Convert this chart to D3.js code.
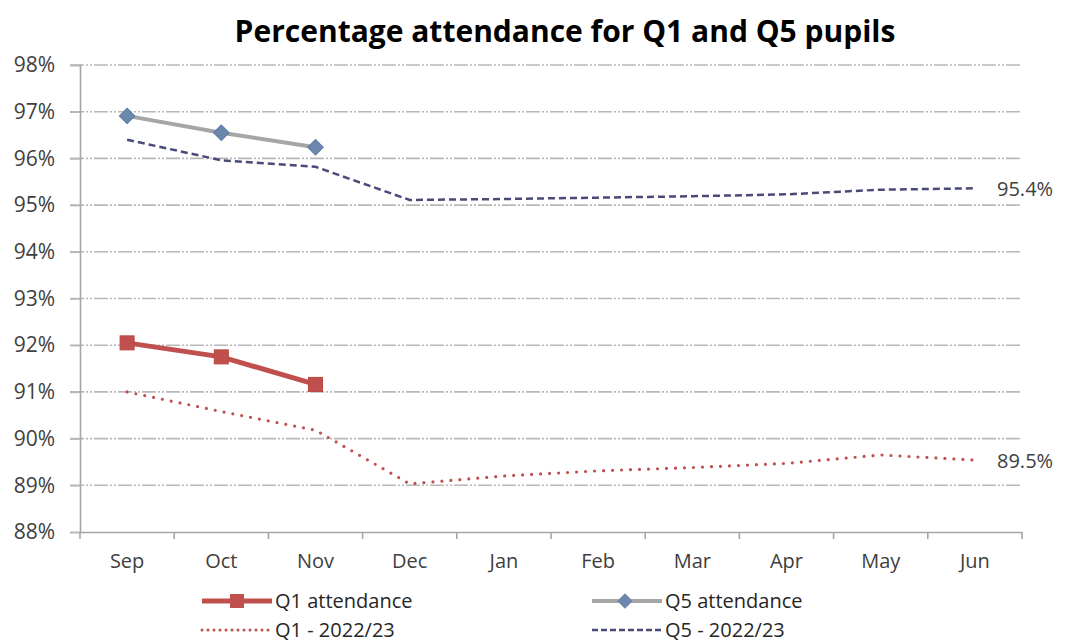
<!DOCTYPE html>
<html>
<head>
<meta charset="utf-8">
<script src="https://cdn.jsdelivr.net/npm/d3@7"></script>
<style>
  body { margin: 0; background: #fff; }
  text { font-family: "Open Sans", Lato, sans-serif; }
</style>
</head>
<body>
<div id="chart"></div>
<script>
// values
var months = ["Sep", "Oct", "Nov", "Dec", "Jan", "Feb", "Mar", "Apr", "May", "Jun"]
var q1Attendance = [92.05, 91.75, 91.16]
var q5Attendance = [96.91, 96.55, 96.24]
var q1Prev = [91.0, 90.58, 90.18, 89.03, 89.2, 89.31, 89.38, 89.47, 89.65, 89.54]
var q5Prev = [96.4, 95.96, 95.82, 95.11, 95.13, 95.16, 95.19, 95.23, 95.33, 95.36]
var yTicks = [88, 89, 90, 91, 92, 93, 94, 95, 96, 97, 98]
var endLabels = ["95.4%", "89.5%"]

var W = 1065, H = 643
var m = {left: 80, right: 43, top: 65, bottom: 111}

var svg = d3.select("#chart").append("svg").attr("width", W).attr("height", H)

var x = d3.scaleBand().domain(months).range([m.left, W - m.right])
var y = d3.scaleLinear().domain([88, 98]).range([H - m.bottom, m.top])
var cx = function(d, i) { return x(months[i]) + x.bandwidth() / 2 }

svg.append("text")
  .attr("x", 565).attr("y", 42)
  .attr("text-anchor", "middle")
  .attr("font-size", 30).attr("font-weight", "bold").attr("fill", "#000")
  .text("Percentage attendance for Q1 and Q5 pupils")

// gridlines
svg.append("g").selectAll("line").data(yTicks.slice(1)).join("line")
  .attr("x1", m.left - 10).attr("x2", W - m.right)
  .attr("y1", d => y(d)).attr("y2", d => y(d))
  .attr("stroke", "#b8b8b8").attr("stroke-width", 1.6)
  .attr("stroke-dasharray", "14,2,2,2,2,2")

// y axis
var yAxis = svg.append("g").attr("transform", "translate(" + m.left + ",0)")
  .call(d3.axisLeft(y).tickValues(yTicks).tickFormat(d => d + "%").tickSize(10).tickPadding(15))
yAxis.select(".domain").attr("stroke", "#a6a6a6").attr("stroke-width", 1.6)
yAxis.selectAll(".tick line").attr("stroke", "#b8b8b8").attr("stroke-width", 1.6)
yAxis.selectAll("text").attr("font-size", 21).attr("fill", "#404040")

// x axis
var xAxis = svg.append("g").attr("transform", "translate(0," + y(88) + ")")
  .call(d3.axisBottom(x).tickSize(0).tickPadding(22))
xAxis.select(".domain").attr("stroke", "#a6a6a6").attr("stroke-width", 1.6)
xAxis.selectAll("text").attr("font-size", 20).attr("fill", "#404040")
svg.append("g").selectAll("line").data(d3.range(months.length + 1)).join("line")
  .attr("x1", i => m.left + i * x.step()).attr("x2", i => m.left + i * x.step())
  .attr("y1", y(88)).attr("y2", y(88) + 7)
  .attr("stroke", "#a6a6a6").attr("stroke-width", 1.6)

var line = d3.line().x(cx).y(d => y(d))

// last year lines
svg.append("path").datum(q5Prev).attr("d", line)
  .attr("fill", "none").attr("stroke", "#4a4a78").attr("stroke-width", 2.5)
  .attr("stroke-dasharray", "7,4")
svg.append("path").datum(q1Prev).attr("d", line)
  .attr("fill", "none").attr("stroke", "#c0504d").attr("stroke-width", 3.2)
  .attr("stroke-linecap", "round").attr("stroke-dasharray", "0,9")

// this year lines
svg.append("path").datum(q5Attendance).attr("d", line)
  .attr("fill", "none").attr("stroke", "#a6a6a6").attr("stroke-width", 4)
svg.append("g").selectAll("path").data(q5Attendance).join("path")
  .attr("d", d3.symbol(d3.symbolSquare, 120))
  .attr("transform", (d, i) => "translate(" + cx(d, i) + "," + y(d) + ") rotate(45)")
  .attr("fill", "#6b87ab").attr("stroke", "#5a7aa5").attr("stroke-width", 1)

svg.append("path").datum(q1Attendance).attr("d", line)
  .attr("fill", "none").attr("stroke", "#c0504d").attr("stroke-width", 5)
svg.append("g").selectAll("rect").data(q1Attendance).join("rect")
  .attr("x", (d, i) => cx(d, i) - 7).attr("y", d => y(d) - 7)
  .attr("width", 14).attr("height", 14)
  .attr("fill", "#c0504d").attr("stroke", "#b9463f").attr("stroke-width", 1)

// end labels
svg.append("g").selectAll("text").data([q5Prev, q1Prev]).join("text")
  .attr("x", 997).attr("y", d => y(d[d.length - 1]) + 8)
  .attr("font-size", 20).attr("fill", "#404040")
  .text((d, i) => endLabels[i])

// legend
var legend = [
  {name: "Q1 attendance", x: 200, y: 601, color: "#c0504d", w: 5, dash: null, marker: "square"},
  {name: "Q5 attendance", x: 590, y: 601, color: "#a6a6a6", w: 4, dash: null, marker: "diamond"},
  {name: "Q1 - 2022/23", x: 200, y: 630, color: "#c0504d", w: 3, dash: "0,6", marker: null},
  {name: "Q5 - 2022/23", x: 590, y: 630, color: "#4a4a78", w: 2.5, dash: "6,3", marker: null}
]
var lg = svg.append("g").selectAll("g").data(legend).join("g")
  .attr("transform", d => "translate(" + d.x + "," + d.y + ")")
lg.append("line").attr("x1", 2).attr("x2", 72)
  .attr("stroke", d => d.color).attr("stroke-width", d => d.w)
  .attr("stroke-linecap", d => d.dash && d.dash[0] == "0" ? "round" : "butt")
  .attr("stroke-dasharray", d => d.dash)
lg.filter(d => d.marker == "square").append("rect")
  .attr("x", 30).attr("y", -7).attr("width", 14).attr("height", 14).attr("fill", "#c0504d")
lg.filter(d => d.marker == "diamond").append("path")
  .attr("d", d3.symbol(d3.symbolSquare, 120))
  .attr("transform", "translate(35,0) rotate(45)").attr("fill", "#6b87ab")
lg.append("text").attr("x", 75).attr("y", 7)
  .attr("font-size", 20).attr("fill", "#262626")
  .text(d => d.name)
</script>
</body>
</html>
